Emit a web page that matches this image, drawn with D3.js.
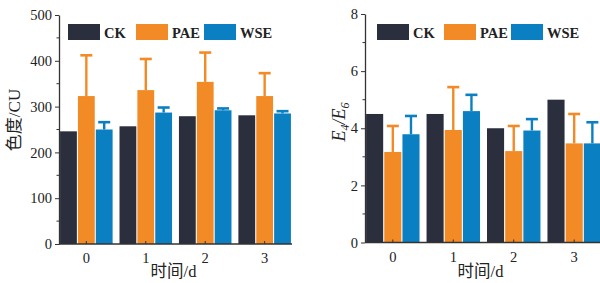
<!DOCTYPE html>
<html>
<head>
<meta charset="utf-8">
<script src="https://cdn.jsdelivr.net/npm/d3@7/dist/d3.min.js"></script>
<style>
  html, body { margin: 0; padding: 0; background: #fff; overflow: hidden; }
  svg text { font-family: "Liberation Serif", "Times New Roman", "Noto Sans CJK SC", serif; fill: #222; }
</style>
</head>
<body>
<svg id="chart" width="600" height="283"></svg>
<script>
// ---- data ----
const days = ["0", "1", "2", "3"];
const series = ["CK", "PAE", "WSE"];
const colors = ["#2a2e3d", "#f28a26", "#0a80c2"];

// 色度 (CU)
const chromaCK  = [246, 257, 279, 281];
const chromaPAE = [323, 336, 354, 323];
const chromaWSE = [250, 287, 292, 285];
const chromaPAEerr = [89, 68, 64, 50];
const chromaWSEerr = [16, 11, 4, 5];
const chromaTicks = [0, 100, 200, 300, 400, 500];

// E4/E6
const ratioCK  = [4.5, 4.5, 4.0, 5.0];
const ratioPAE = [3.17, 3.94, 3.2, 3.47];
const ratioWSE = [3.79, 4.6, 3.92, 3.47];
const ratioPAEerr = [0.91, 1.5, 0.88, 1.03];
const ratioWSEerr = [0.64, 0.57, 0.4, 0.74];
const ratioTicks = [0, 2, 4, 6, 8];

const svg = d3.select("#chart");

function drawPanel(cfg) {
  const g = svg.append("g");

  const x = d3.scaleBand().domain(days).range([cfg.x0, cfg.x1])
      .paddingInner(0.08).paddingOuter(0);
  const xs = d3.scaleBand().domain(series).range([0, x.bandwidth()]).padding(0.06);
  const y = d3.scaleLinear().domain([0, cfg.max]).range([cfg.y0, cfg.y1]);

  const rows = [];
  days.forEach((d, i) => {
    series.forEach((s, j) => {
      rows.push({ day: d, s: s, c: colors[j], v: cfg.values[j][i], e: cfg.errs[j][i] });
    });
  });

  // bars
  g.selectAll("rect.bar").data(rows).enter().append("rect")
    .attr("class", "bar")
    .attr("x", d => x(d.day) + xs(d.s))
    .attr("width", xs.bandwidth())
    .attr("y", d => y(d.v))
    .attr("height", d => y(0) - y(d.v))
    .attr("fill", d => d.c);

  // error bars (upper only)
  const withErr = rows.filter(d => d.e > 0);
  g.selectAll("line.stem").data(withErr).enter().append("line")
    .attr("x1", d => x(d.day) + xs(d.s) + xs.bandwidth() / 2)
    .attr("x2", d => x(d.day) + xs(d.s) + xs.bandwidth() / 2)
    .attr("y1", d => y(d.v))
    .attr("y2", d => y(d.v + d.e))
    .attr("stroke", d => d.c).attr("stroke-width", 2.4);
  g.selectAll("line.cap").data(withErr).enter().append("line")
    .attr("x1", d => x(d.day) + xs(d.s) + xs.bandwidth() / 2 - 6)
    .attr("x2", d => x(d.day) + xs(d.s) + xs.bandwidth() / 2 + 6)
    .attr("y1", d => y(d.v + d.e))
    .attr("y2", d => y(d.v + d.e))
    .attr("stroke", d => d.c).attr("stroke-width", 2.6);

  // y axis
  const yAxis = g.append("g")
    .attr("transform", `translate(${cfg.x0},0)`)
    .call(d3.axisLeft(y).tickValues(cfg.ticks).tickSize(4).tickPadding(3).tickSizeOuter(0));
  yAxis.select(".domain").attr("stroke", "#333").attr("stroke-width", 1.3);
  yAxis.selectAll(".tick line").attr("stroke", "#333");
  yAxis.selectAll(".tick text").attr("font-size", 14.5).attr("fill", "#222");
  // minor ticks
  const minor = d3.pairs(cfg.ticks).map(p => (p[0] + p[1]) / 2);
  g.selectAll("line.minor").data(minor).enter().append("line")
    .attr("x1", cfg.x0 - 2.5).attr("x2", cfg.x0)
    .attr("y1", d => y(d)).attr("y2", d => y(d))
    .attr("stroke", "#333");

  // x axis
  const xAxis = g.append("g")
    .attr("transform", `translate(0,${cfg.y0})`)
    .call(d3.axisBottom(x).tickSize(-3).tickPadding(9).tickSizeOuter(0));
  xAxis.select(".domain").attr("stroke", "#333").attr("stroke-width", 1.3)
    .attr("d", `M${cfg.x0},0H${cfg.x1}`);
  xAxis.selectAll(".tick line").attr("stroke", "#333");
  xAxis.selectAll(".tick text").attr("font-size", 14.5).attr("fill", "#222");

  // x title
  g.append("text")
    .attr("x", (cfg.x0 + Math.min(cfg.x1, 600)) / 2 - 2)
    .attr("y", 277)
    .attr("text-anchor", "middle")
    .attr("font-size", 16.5)
    .text("时间/d");

  // legend
  const lg = g.append("g").attr("transform", `translate(${cfg.legX},24)`);
  series.forEach((s, j) => {
    const item = lg.append("g").attr("transform", `translate(${j * cfg.legStep},0)`);
    item.append("rect").attr("width", 32).attr("height", 16).attr("fill", colors[j]);
    item.append("text").attr("x", 36).attr("y", 13.5)
      .attr("font-size", 14.5).attr("font-weight", "bold").text(s);
  });

  return g;
}

// left panel
const left = drawPanel({
  x0: 59, x1: 292, y0: 244, y1: 15, max: 500,
  ticks: chromaTicks,
  values: [chromaCK, chromaPAE, chromaWSE],
  errs: [[0, 0, 0, 0], chromaPAEerr, chromaWSEerr],
  legX: 68, legStep: 68
});
left.append("text")
  .attr("transform", "translate(20,120) rotate(-90)")
  .attr("text-anchor", "middle")
  .attr("font-size", 17)
  .text("色度/CU");

// right panel
const right = drawPanel({
  x0: 365, x1: 602, y0: 242.5, y1: 14, max: 8,
  ticks: ratioTicks,
  values: [ratioCK, ratioPAE, ratioWSE],
  errs: [[0, 0, 0, 0], ratioPAEerr, ratioWSEerr],
  legX: 377, legStep: 67
});
const yt = right.append("text")
  .attr("transform", "translate(345,122) rotate(-90)")
  .attr("text-anchor", "middle")
  .attr("font-size", 18)
  .attr("font-style", "italic");
yt.append("tspan").text("E");
yt.append("tspan").attr("font-size", 12).attr("dy", 4).text("4");
yt.append("tspan").attr("dy", -4).text("/E");
yt.append("tspan").attr("font-size", 12).attr("dy", 4).text("6");
</script>
</body>
</html>
